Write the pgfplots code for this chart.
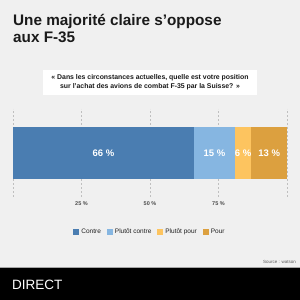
\documentclass[border=0pt]{standalone}
\usepackage{pgfplots}
\pgfplotsset{compat=1.18}
\usepackage{fontspec}
\setmainfont{Liberation Sans}
\definecolor{bgcol}{HTML}{F0F0F0}
\definecolor{cContre}{HTML}{4A7DB1}
\definecolor{cPcontre}{HTML}{86B6E1}
\definecolor{cPpour}{HTML}{FDC45F}
\definecolor{cPour}{HTML}{DCA03F}
\definecolor{txt}{HTML}{1A1A1A}
\tikzset{barlbl/.style={text=white, font=\fontsize{9.5bp}{10bp}\selectfont\bfseries}}
\begin{document}
\begin{tikzpicture}
\useasboundingbox (0,0) rectangle (300bp,300bp);
\fill[bgcol] (0,0) rectangle (300bp,300bp);
% title
\node[anchor=base west, inner sep=0, font=\fontsize{15.3bp}{17bp}\selectfont\bfseries, text=txt] at (13bp,274bp) {Une majorité claire s’oppose};
\node[anchor=base west, inner sep=0, font=\fontsize{15.3bp}{17bp}\selectfont\bfseries, text=txt] at (13bp,257bp) {aux F-35};
% question box
\node[fill=white, minimum width=214bp, minimum height=25bp, align=center, inner sep=0, text=txt,
  font=\fontsize{6.9bp}{9bp}\selectfont\bfseries] at (150bp,217.5bp)
  {« Dans les circonstances actuelles, quelle est votre position\\sur l’achat des avions de combat F-35 par la Suisse? »};
\begin{axis}[
  at={(13bp,103bp)}, anchor=south west,
  width=274bp, height=88bp, scale only axis,
  xbar stacked, bar width=52bp,
  xmin=0, xmax=100, ymin=-0.5, ymax=0.5,
  ytick=\empty,
  xtick={0,25,50,75,100},
  xticklabels={,25 \%,50 \%,75 \%,},
  xticklabel style={anchor=center, yshift=-7bp, font=\fontsize{5.5bp}{6bp}\selectfont\bfseries, text=black!70},
  major tick length=0pt,
  axis line style={draw=none},
  xmajorgrids,
  grid style={gray!50, dash pattern=on 2bp off 2bp, line width=0.6bp},
  legend columns=4,
  legend style={at={(0.5,-0.398)}, anchor=center, draw=none, fill=none,
    font=\fontsize{6.5bp}{7bp}\selectfont, text=black!88,
    /tikz/every even column/.append style={column sep=4bp}},
  legend image code/.code={\draw[#1, draw=none] (0bp,-3bp) rectangle (6bp,3bp);},
]
\addplot[fill=cContre, draw=none] coordinates {(66,0)};
\addplot[fill=cPcontre, draw=none] coordinates {(15,0)};
\addplot[fill=cPpour, draw=none] coordinates {(6,0)};
\addplot[fill=cPour, draw=none] coordinates {(13,0)};
\legend{Contre, Plutôt contre, Plutôt pour, Pour}
\coordinate (l1) at (axis cs:33,0);
\coordinate (l2) at (axis cs:73.5,0);
\coordinate (l3) at (axis cs:84,0);
\coordinate (l4) at (axis cs:93.5,0);
\end{axis}
\node[barlbl] at (l1) {66 \%};
\node[barlbl] at (l2) {15 \%};
\node[barlbl] at (l3) {6 \%};
\node[barlbl] at (l4) {13 \%};
% source
\node[anchor=base east, inner sep=0, font=\fontsize{4.5bp}{5bp}\selectfont, text=black!65] at (296bp,36.5bp) {Source : watson};
% bottom band
\fill[black] (0,0) rectangle (300bp,32.5bp);
\draw[gray!70, line width=0.8bp] (0,32.8bp) -- (300bp,32.8bp);
\node[anchor=base west, inner sep=0, font=\fontsize{13.5bp}{14bp}\selectfont, text=white] at (12bp,11bp) {DIRECT};
\end{tikzpicture}
\end{document}
